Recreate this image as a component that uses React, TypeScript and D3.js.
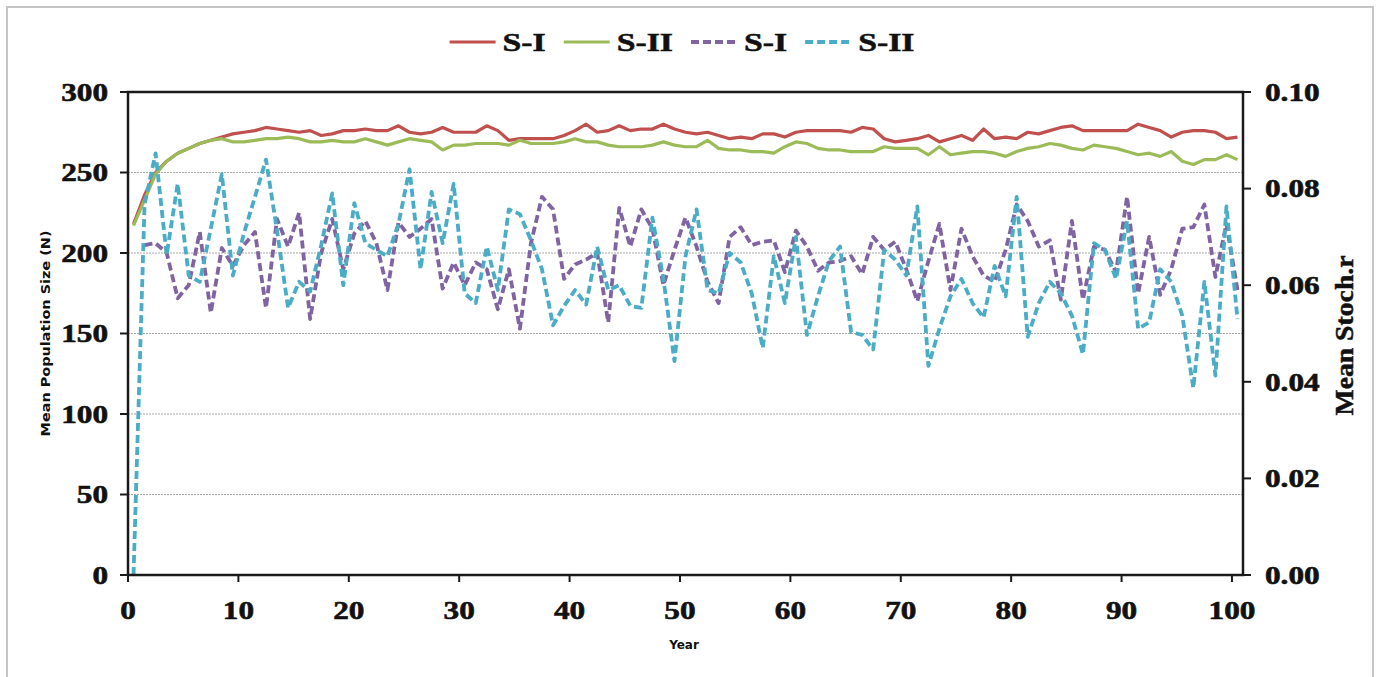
import React, { useRef, useEffect } from "react";
import * as d3 from "d3";

// roky simulácie (kategórie na osi x)
const years = d3.range(0, 101);

// Mean population size (ľavá os)
const popS1 = [
  218, 236, 250, 257, 262, 265, 268, 270, 272, 274, 275, 276, 278, 277, 276, 275, 276, 273, 274, 276,
  276, 277, 276, 276, 279, 275, 274, 275, 278, 275, 275, 275, 279, 276, 270, 271, 271, 271, 271, 273,
  276, 280, 275, 276, 279, 276, 277, 277, 280, 277, 275, 274, 275, 273, 271, 272, 271, 274, 274, 272,
  275, 276, 276, 276, 276, 275, 278, 277, 271, 269, 270, 271, 273, 269, 271, 273, 270, 277, 271, 272,
  271, 275, 274, 276, 278, 279, 276, 276, 276, 276, 276, 280, 278, 276, 272, 275, 276, 276, 275, 271,
  272,
];
const popS2 = [
  217, 233, 249, 257, 262, 265, 268, 270, 271, 269, 269, 270, 271, 271, 272, 271, 269, 269, 270, 269,
  269, 271, 269, 267, 269, 271, 270, 269, 264, 267, 267, 268, 268, 268, 267, 270, 268, 268, 268, 269,
  271, 269, 269, 267, 266, 266, 266, 267, 269, 267, 266, 266, 270, 265, 264, 264, 263, 263, 262, 266,
  269, 268, 265, 264, 264, 263, 263, 263, 266, 265, 265, 265, 261, 266, 261, 262, 263, 263, 262, 260,
  263, 265, 266, 268, 267, 265, 264, 267, 266, 265, 263, 261, 262, 260, 263, 257, 255, 258, 258, 261,
  258,
];

// Mean Stoch.r (pravá os)
const stochS1: (number | null)[] = [
  null, 0.0683, 0.0687, 0.0667, 0.0573, 0.06, 0.071, 0.0543, 0.0677, 0.064,
  0.0683, 0.071, 0.0553, 0.0737, 0.068, 0.075, 0.053, 0.0667, 0.0737, 0.0633,
  0.0707, 0.0733, 0.0687, 0.059, 0.073, 0.07, 0.0717, 0.0737, 0.0593, 0.0647,
  0.06, 0.0647, 0.0633, 0.055, 0.0633, 0.051, 0.0687, 0.0783, 0.0757, 0.0613,
  0.0643, 0.0653, 0.0667, 0.0523, 0.076, 0.068, 0.0757, 0.0717, 0.06, 0.0673,
  0.074, 0.068, 0.0607, 0.0563, 0.07, 0.072, 0.0683, 0.069, 0.0693, 0.0627,
  0.0713, 0.068, 0.063, 0.0647, 0.065, 0.066, 0.0623, 0.07, 0.0673, 0.069,
  0.0633, 0.0567, 0.065, 0.0727, 0.059, 0.0717, 0.066, 0.062, 0.0607, 0.0673,
  0.0767, 0.0733, 0.068, 0.0693, 0.057, 0.0733, 0.057, 0.068, 0.0673, 0.0627,
  0.0783, 0.0583, 0.07, 0.058, 0.0633, 0.0717, 0.072, 0.0767, 0.0617, 0.0727,
  0.059,
];
const stochS2 = [
  0, 0.0767, 0.0873, 0.0663, 0.081, 0.062, 0.0607, 0.0717, 0.083, 0.062,
  0.0707, 0.0783, 0.086, 0.0713, 0.0553, 0.0607, 0.0587, 0.0683, 0.079, 0.06,
  0.077, 0.0687, 0.0673, 0.066, 0.0727, 0.084, 0.0633, 0.0793, 0.0687, 0.081,
  0.0583, 0.0563, 0.068, 0.059, 0.0757, 0.0747, 0.0693, 0.0633, 0.0517, 0.0557,
  0.059, 0.056, 0.068, 0.059, 0.06, 0.0557, 0.0553, 0.074, 0.0613, 0.0443,
  0.066, 0.0757, 0.059, 0.0583, 0.0667, 0.0647, 0.0583, 0.047, 0.066, 0.0563,
  0.07, 0.0497, 0.0577, 0.065, 0.068, 0.0503, 0.0497, 0.0467, 0.0673, 0.0653,
  0.062, 0.0763, 0.0433, 0.051, 0.0577, 0.0613, 0.0563, 0.0533, 0.064, 0.0577,
  0.0783, 0.0493, 0.0563, 0.0607, 0.0583, 0.0537, 0.0457, 0.0687, 0.0673, 0.0613,
  0.0733, 0.051, 0.0523, 0.0633, 0.0607, 0.0537, 0.0387, 0.0607, 0.0413, 0.0763,
  0.053,
];

const xTicks = d3.range(0, 101, 10);
const leftTicks = [0, 50, 100, 150, 200, 250, 300];
const rightTicks = [0, 0.02, 0.04, 0.06, 0.08, 0.1];
const gridTicks = [50, 100, 150, 200, 250];

const seriesNames = ["S-I", "S-II", "S-I", "S-II"];
const seriesColors = ["#C0504D", "#9BBB59", "#8064A2", "#4BACC6"];

const SERIF = "'Liberation Serif', 'Times New Roman', serif";
const SANS = "'DejaVu Sans', Arial, sans-serif";
const STRETCH = 1.25;
const DASH = "8,4";

const App = () => {
  const ref = useRef<SVGSVGElement>(null);

  useEffect(() => {
    const width = 1380;
    const height = 677;
    const margin = { top: 92, right: 137, bottom: 102, left: 128 };

    const svg = d3.select(ref.current);
    svg.selectAll("*").remove();

    // vonkajší rámik
    svg
      .append("rect")
      .attr("x", 7)
      .attr("y", 7)
      .attr("width", 1366)
      .attr("height", 700)
      .attr("fill", "white")
      .attr("stroke", "#c4c4c4")
      .attr("stroke-width", 2);

    const x = d3
      .scaleLinear()
      .domain([0, 101])
      .range([margin.left, width - margin.right]);
    const yL = d3
      .scaleLinear()
      .domain([0, 300])
      .range([height - margin.bottom, margin.top]);
    const yR = d3
      .scaleLinear()
      .domain([0, 0.1])
      .range([height - margin.bottom, margin.top]);

    const x0 = margin.left;
    const x1 = width - margin.right;
    const yb = height - margin.bottom;
    const yt = margin.top;

    // mriežka
    svg
      .append("g")
      .selectAll("line")
      .data(gridTicks)
      .join("line")
      .attr("x1", x0)
      .attr("x2", x1)
      .attr("y1", (d) => yL(d))
      .attr("y2", (d) => yL(d))
      .attr("stroke", "#a8a8a8")
      .attr("stroke-width", 1)
      .attr("stroke-dasharray", "2,1");

    // čiary
    const pos = (i: number) => x(years[i] + 0.5);
    const solid = (vals: number[]) =>
      d3
        .line<number>()
        .x((_, i) => pos(i))
        .y((d) => yL(d))(vals);
    const dashed = (vals: (number | null)[]) =>
      d3
        .line<number | null>()
        .defined((d) => d !== null)
        .x((_, i) => pos(i))
        .y((d) => yR(d as number))(vals);

    const lines = [
      { d: solid(popS1), color: seriesColors[0], dash: null },
      { d: solid(popS2), color: seriesColors[1], dash: null },
      { d: dashed(stochS1), color: seriesColors[2], dash: DASH },
      { d: dashed(stochS2), color: seriesColors[3], dash: DASH },
    ];
    lines.forEach((l) => {
      svg
        .append("path")
        .attr("d", l.d)
        .attr("fill", "none")
        .attr("stroke", l.color)
        .attr("stroke-width", l.dash ? 3.8 : 3.2)
        .attr("stroke-linejoin", "round")
        .attr("stroke-dasharray", l.dash);
    });

    // rámik grafu
    svg
      .append("rect")
      .attr("x", x0)
      .attr("y", yt)
      .attr("width", x1 - x0)
      .attr("height", yb - yt)
      .attr("fill", "none")
      .attr("stroke", "#1a1a1a")
      .attr("stroke-width", 2.5);

    const label = (
      g: d3.Selection<SVGGElement, unknown, null, undefined>,
      tx: number,
      ty: number,
      text: string,
      anchor: string
    ) =>
      g
        .append("text")
        .attr("transform", `translate(${tx},${ty}) scale(${STRETCH},1)`)
        .attr("text-anchor", anchor)
        .attr("dy", "0.35em")
        .attr("font-family", SERIF)
        .attr("font-weight", "bold")
        .attr("font-size", 25)
        .attr("fill", "#111")
        .attr("stroke", "#111")
        .attr("stroke-width", 0.6)
        .text(text);

    // ľavá os
    const gl = svg.append("g");
    leftTicks.forEach((t) => {
      gl.append("line")
        .attr("x1", x0 - 8)
        .attr("x2", x0)
        .attr("y1", yL(t))
        .attr("y2", yL(t))
        .attr("stroke", "#1a1a1a")
        .attr("stroke-width", 2);
      label(gl, x0 - 20, yL(t), String(t), "end");
    });

    // pravá os
    const gr = svg.append("g");
    rightTicks.forEach((t) => {
      gr.append("line")
        .attr("x1", x1)
        .attr("x2", x1 + 8)
        .attr("y1", yR(t))
        .attr("y2", yR(t))
        .attr("stroke", "#1a1a1a")
        .attr("stroke-width", 2);
      label(gr, x1 + 22, yR(t), t.toFixed(2), "start");
    });

    // spodná os
    const gb = svg.append("g");
    xTicks.forEach((t) => {
      gb.append("line")
        .attr("x1", x(t))
        .attr("x2", x(t))
        .attr("y1", yb)
        .attr("y2", yb + 7)
        .attr("stroke", "#1a1a1a")
        .attr("stroke-width", 2);
      label(gb, x(t), yb + 35, String(t), "middle");
    });

    // popisy osí
    svg
      .append("text")
      .attr("transform", `translate(46,${(yt + yb) / 2}) rotate(-90)`)
      .attr("text-anchor", "middle")
      .attr("dy", "0.35em")
      .attr("font-family", SANS)
      .attr("font-weight", "bold")
      .attr("font-size", 12)
      .attr("textLength", 206)
      .attr("lengthAdjust", "spacingAndGlyphs")
      .attr("fill", "#111")
      .text("Mean Population Size (N)");

    svg
      .append("text")
      .attr("transform", `translate(1344,${(yt + yb) / 2 + 2}) rotate(-90)`)
      .attr("text-anchor", "middle")
      .attr("dy", "0.35em")
      .attr("font-family", SERIF)
      .attr("font-weight", "bold")
      .attr("font-size", 26)
      .attr("textLength", 160)
      .attr("lengthAdjust", "spacingAndGlyphs")
      .attr("fill", "#111")
      .attr("stroke", "#111")
      .attr("stroke-width", 0.5)
      .text("Mean Stoch.r");

    svg
      .append("text")
      .attr("x", 684)
      .attr("y", 645)
      .attr("text-anchor", "middle")
      .attr("dy", "0.35em")
      .attr("font-family", SANS)
      .attr("font-weight", "bold")
      .attr("font-size", 12)
      .attr("fill", "#111")
      .text("Year");

    // legenda
    const lg = svg.append("g");
    const lineW = 46;
    const items = seriesNames.map((name, i) => {
      const g = lg.append("g");
      g.append("line")
        .attr("x1", 0)
        .attr("x2", lineW)
        .attr("y1", 0)
        .attr("y2", 0)
        .attr("stroke", seriesColors[i])
        .attr("stroke-width", i < 2 ? 3.2 : 3.8)
        .attr("stroke-dasharray", i < 2 ? null : DASH);
      const t = g
        .append("text")
        .attr("transform", `translate(${lineW + 7},0) scale(1.35,1)`)
        .attr("dy", "0.35em")
        .attr("font-family", SERIF)
        .attr("font-weight", "bold")
        .attr("font-size", 25)
        .attr("fill", "#111")
        .attr("stroke", "#111")
        .attr("stroke-width", 0.5)
        .text(name);
      const w = lineW + 7 + (t.node() as SVGTextElement).getComputedTextLength() * 1.35;
      return { g, w };
    });
    const gap = 18;
    const total = d3.sum(items, (d) => d.w) + gap * (items.length - 1);
    let cx = 682 - total / 2;
    items.forEach((it) => {
      it.g.attr("transform", `translate(${cx},42)`);
      cx += it.w + gap;
    });
  }, []);

  return (
    <svg
      ref={ref}
      width={1380}
      height={677}
      style={{ position: "absolute", left: 0, top: 0, background: "white" }}
    />
  );
};

export default App;
